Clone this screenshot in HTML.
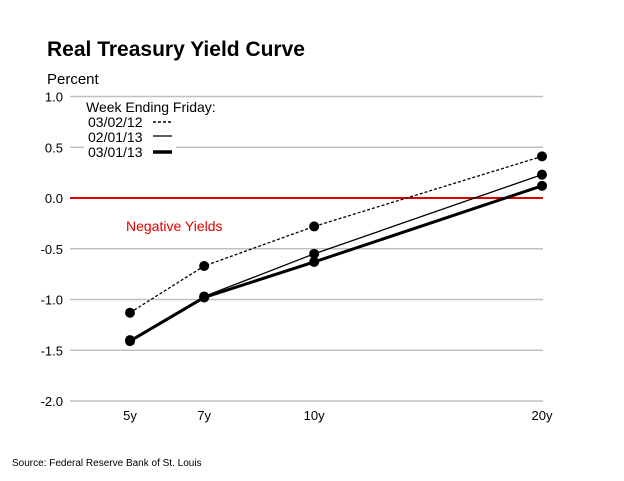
<!DOCTYPE html>
<html><head><meta charset="utf-8"><style>
body{margin:0;background:#fff;}
svg{display:block;font-family:"Liberation Sans",sans-serif;}
</style></head><body>
<svg id="chart" width="624" height="481">
<text x="47" y="56" font-size="21" font-weight="bold">Real Treasury Yield Curve</text>
<text x="47" y="84" font-size="15">Percent</text>
<g id="grid"></g>
<g id="series"></g>
<text x="126" y="231" font-size="14" fill="#e00000">Negative Yields</text>
<g>
<rect x="84" y="99" width="92" height="62" fill="#fff"/>
<text x="86" y="112" font-size="14">Week Ending Friday:</text>
<text x="88" y="127" font-size="14">03/02/12</text>
<line x1="153" y1="122" x2="172" y2="122" stroke="#000" stroke-width="1.5" stroke-dasharray="3,2"/>
<text x="88" y="142" font-size="14">02/01/13</text>
<line x1="153" y1="136" x2="172" y2="136" stroke="#000" stroke-width="1.3"/>
<text x="88" y="157" font-size="14">03/01/13</text>
<line x1="153" y1="152" x2="172" y2="152" stroke="#000" stroke-width="3.5"/>
</g>
<text x="12" y="466" font-size="10">Source:  Federal Reserve Bank of St. Louis</text>
</svg>
<script>
const categories=["5y","7y","10y","20y"];
const yTicks=[1.0,0.5,0.0,-0.5,-1.0,-1.5,-2.0];
const s2012=[-1.13,-0.67,-0.28,0.41];
const s2013a=[-1.40,-0.97,-0.55,0.23];
const s2013b=[-1.41,-0.98,-0.63,0.12];
const ns="http://www.w3.org/2000/svg";
function y(v){return 198-v*101.5;}
function x(i){const f=[0,0.18,0.447,1][i];return 130+f*412;}
const grid=document.getElementById('grid'),ser=document.getElementById('series');
function mk(tag,attrs,parent){const e=document.createElementNS(ns,tag);for(const k in attrs)e.setAttribute(k,attrs[k]);parent.appendChild(e);return e;}
yTicks.forEach(t=>{
 const l=mk('line',{x1:70,x2:543,y1:y(t),y2:y(t),stroke:t===0?'#e00000':'#c0c0c0','stroke-width':t===0?2:1.5},grid);
 
 
 const tx=mk('text',{x:63,y:y(t)+5,'font-size':13,'text-anchor':'end'},grid);
 tx.textContent=t.toFixed(1);
 
 
});
categories.forEach((c,i)=>{
 const tx=mk('text',{x:x(i),y:420,'font-size':13,'text-anchor':'middle'},grid);
 tx.textContent=c;
 
 
});
[[s2012,1.3,'3,2','series-030212'],[s2013a,1.3,null,'series-020113'],[s2013b,3,null,'series-030113']].forEach(([d,w,dash,name])=>{
 const p=mk('polyline',{points:d.map((v,i)=>x(i)+','+y(v)).join(' '),fill:'none',stroke:'#000','stroke-width':w},ser);
 if(dash)p.setAttribute('stroke-dasharray',dash);
 
 
 d.forEach((v,i)=>{
  const c=mk('circle',{cx:x(i),cy:y(v),r:5,fill:'#000'},ser);
  
  
 });
});
</script>
</body></html>
